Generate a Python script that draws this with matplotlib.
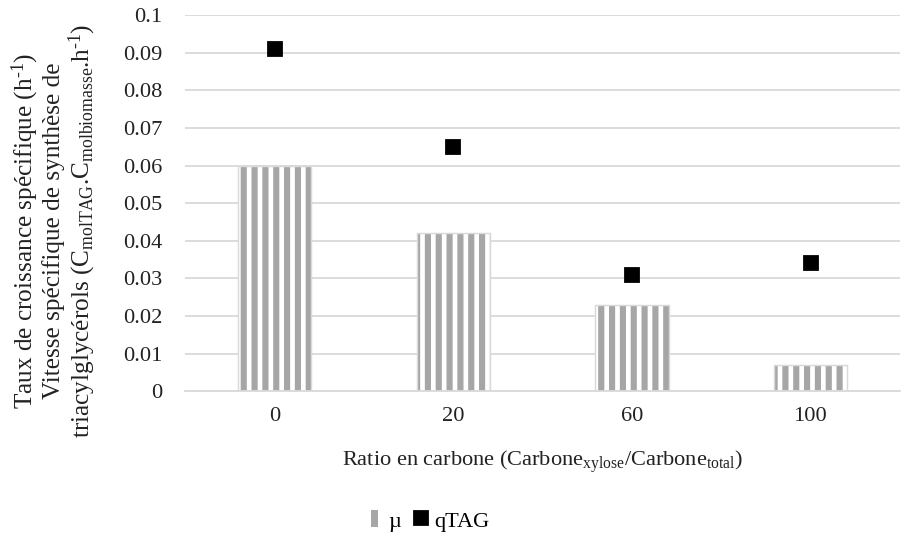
import numpy as np
import matplotlib
matplotlib.use('Agg')
import matplotlib.pyplot as plt
from matplotlib.patches import Patch
from matplotlib.lines import Line2D

ratios = ['0', '20', '60', '100']
mu = [0.060, 0.042, 0.023, 0.007]
qtag = [0.091, 0.065, 0.031, 0.034]

plt.rcParams['font.family'] = ['Liberation Serif', 'DejaVu Serif']
plt.rcParams['mathtext.fontset'] = 'custom'
plt.rcParams['mathtext.rm'] = 'Liberation Serif'
plt.rcParams['mathtext.it'] = 'Liberation Serif:italic'
plt.rcParams['hatch.linewidth'] = 3.4

DPI = 130
fs = 12.4
fig = plt.figure(figsize=(912 / DPI, 541 / DPI), dpi=DPI)
ax = fig.add_axes([0.203, 0.277, 0.784, 0.695])

x = np.arange(len(ratios))
ax.bar(x, mu, width=0.41, color='white', edgecolor='#a6a6a6', hatch='||',
       linewidth=0, zorder=2)
ax.bar(x, mu, width=0.41, fill=False, edgecolor='#d9d9d9', linewidth=0.8,
       zorder=3)
ax.plot(x, qtag, linestyle='none', marker='s', markersize=7.5, color='black',
        zorder=4)

ax.set_xlim(-0.5, len(ratios) - 0.5)
ax.set_ylim(0, 0.1)
ax.set_yticks(np.arange(0, 0.101, 0.01))
ax.set_yticklabels(['0'] + ['%g' % round(v, 2) for v in np.arange(0.01, 0.101, 0.01)])
ax.set_xticks(x)
ax.set_xticklabels(ratios)
ax.tick_params(axis='both', length=0, labelsize=fs, labelcolor='#222222')
ax.tick_params(axis='y', pad=12.5)
ax.tick_params(axis='x', pad=9)
ax.grid(axis='y', color='#d9d9d9', linewidth=1.0, zorder=0)
ax.set_axisbelow(True)
for s in ['top', 'right', 'left']:
    ax.spines[s].set_visible(False)
ax.spines['bottom'].set_color('#d9d9d9')
ax.spines['bottom'].set_linewidth(1.0)

fig.text(54 / 912, 1 - 231 / 541,
         'Taux de croissance spécifique (h$^{\\text{-}1}$)\n'
         'Vitesse spécifique de synthèse de\n'
         'triacylglycérols (C$_{\\mathrm{molTAG}}$.C$_{\\mathrm{molbiomasse}}$.h$^{\\text{-}1}$)',
         rotation=90, ha='center', va='center', fontsize=14, linespacing=1.08,
         color='#222222')
ax.set_xlabel('Ratio en carbone (Carbone$_{\\mathrm{xylose}}$/Carbone$_{\\mathrm{total}}$)',
              fontsize=fs, color='#222222', labelpad=12)

handles = [Patch(facecolor='#a6a6a6', edgecolor='none'),
           Line2D([], [], linestyle='none', marker='s', markersize=7.5, color='black')]
fig.legend(handles, ['µ', 'qTAG'], loc='center', bbox_to_anchor=(0.472, 0.037),
           ncol=2, frameon=False, fontsize=fs, handlelength=0.3, handleheight=0.8,
           handletextpad=0.45, columnspacing=0.75)

fig.savefig('out.png', dpi=DPI)
